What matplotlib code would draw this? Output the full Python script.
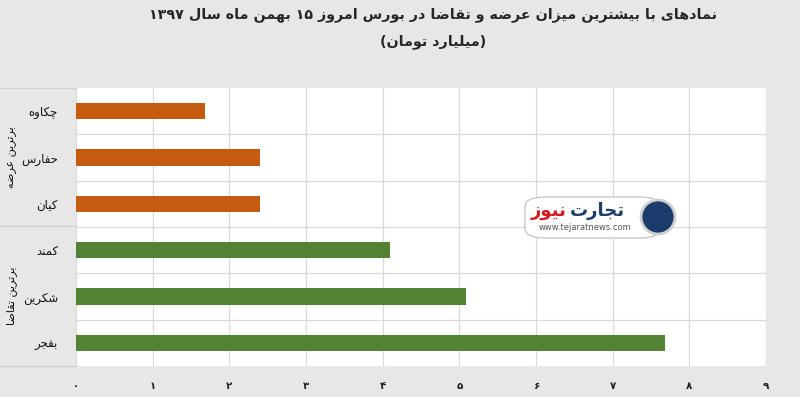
import matplotlib
matplotlib.use('Agg')
import matplotlib.pyplot as plt
from matplotlib.patches import FancyBboxPatch, Ellipse
from matplotlib.lines import Line2D

# data (top to bottom)
symbols = ['چکاوه', 'حفارس', 'کیان', 'کمند', 'شکرین', 'بفجر']
values = [1.68, 2.40, 2.40, 4.09, 5.09, 7.68]
groups = ['برترین عرضه', 'برترین تقاضا']
group_size = [3, 3]
x_ticks = list(range(10))
title_1 = 'نمادهای با بیشترین میزان عرضه و تقاضا در بورس امروز ۱۵ بهمن ماه سال ۱۳۹۷'
title_2 = '(میلیارد تومان)'

ORANGE = '#c55a11'
GREEN = '#548235'
BG = '#e7e7e7'

# --- tiny arabic/persian shaper (matplotlib 3.10 has no bidi/shaping) ---
FORMS = {
    'ا': (0xFE8D, 0xFE8E), 'د': (0xFEA9, 0xFEAA), 'ذ': (0xFEAB, 0xFEAC),
    'ر': (0xFEAD, 0xFEAE), 'ز': (0xFEAF, 0xFEB0), 'ژ': (0xFB8A, 0xFB8B),
    'و': (0xFEED, 0xFEEE),
    'ب': (0xFE8F, 0xFE90, 0xFE91, 0xFE92), 'پ': (0xFB56, 0xFB57, 0xFB58, 0xFB59),
    'ت': (0xFE95, 0xFE96, 0xFE97, 0xFE98), 'ث': (0xFE99, 0xFE9A, 0xFE9B, 0xFE9C),
    'ج': (0xFE9D, 0xFE9E, 0xFE9F, 0xFEA0), 'چ': (0xFB7A, 0xFB7B, 0xFB7C, 0xFB7D),
    'ح': (0xFEA1, 0xFEA2, 0xFEA3, 0xFEA4), 'خ': (0xFEA5, 0xFEA6, 0xFEA7, 0xFEA8),
    'س': (0xFEB1, 0xFEB2, 0xFEB3, 0xFEB4), 'ش': (0xFEB5, 0xFEB6, 0xFEB7, 0xFEB8),
    'ص': (0xFEB9, 0xFEBA, 0xFEBB, 0xFEBC), 'ض': (0xFEBD, 0xFEBE, 0xFEBF, 0xFEC0),
    'ط': (0xFEC1, 0xFEC2, 0xFEC3, 0xFEC4), 'ظ': (0xFEC5, 0xFEC6, 0xFEC7, 0xFEC8),
    'ع': (0xFEC9, 0xFECA, 0xFECB, 0xFECC), 'غ': (0xFECD, 0xFECE, 0xFECF, 0xFED0),
    'ف': (0xFED1, 0xFED2, 0xFED3, 0xFED4), 'ق': (0xFED5, 0xFED6, 0xFED7, 0xFED8),
    'ک': (0xFB8E, 0xFB8F, 0xFB90, 0xFB91), 'گ': (0xFB92, 0xFB93, 0xFB94, 0xFB95),
    'ل': (0xFEDD, 0xFEDE, 0xFEDF, 0xFEE0), 'م': (0xFEE1, 0xFEE2, 0xFEE3, 0xFEE4),
    'ن': (0xFEE5, 0xFEE6, 0xFEE7, 0xFEE8), 'ه': (0xFEE9, 0xFEEA, 0xFEEB, 0xFEEC),
    'ی': (0xFBFC, 0xFBFD, 0xFBFE, 0xFBFF),
}
MIRROR = {'(': ')', ')': '('}


def shape(s):
    out = []
    for i, ch in enumerate(s):
        f = FORMS.get(ch)
        if f is None:
            out.append(MIRROR.get(ch, ch))
            continue
        prev = s[i - 1] if i > 0 else ''
        nxt = s[i + 1] if i + 1 < len(s) else ''
        j_prev = prev in FORMS and len(FORMS[prev]) == 4
        j_next = len(f) == 4 and nxt in FORMS
        if j_prev and j_next:
            out.append(chr(f[3]))
        elif j_prev:
            out.append(chr(f[1]))
        elif j_next:
            out.append(chr(f[2]))
        else:
            out.append(chr(f[0]))
    # visual order: reverse, but keep digit runs left-to-right
    runs, cur = [], ''
    for ch in out:
        if ch.isdigit():
            cur += ch
        else:
            if cur:
                runs.append(cur)
                cur = ''
            runs.append(ch)
    if cur:
        runs.append(cur)
    return ''.join(reversed(runs))


plt.rcParams['font.family'] = ['DejaVu Sans']

fig = plt.figure(figsize=(8, 3.97), dpi=100)
fig.patch.set_facecolor(BG)
ax = fig.add_axes([76 / 800, 1 - 366 / 397, 690 / 800, 278 / 397])
ax.set_facecolor('white')

ypos = list(range(len(symbols)))
colors = [ORANGE] * group_size[0] + [GREEN] * group_size[1]
ax.barh(ypos, values, height=0.35, color=colors, zorder=3)

ax.set_xlim(0, 9)
ax.set_ylim(len(symbols) - 0.5, -0.5)
ax.set_xticks(x_ticks)
ax.set_xticklabels([shape(str(t).translate(str.maketrans('0123456789', '۰۱۲۳۴۵۶۷۸۹'))) for t in x_ticks],
                   fontsize=7.5, fontweight='bold', color='#222222')
ax.set_yticks(ypos)
ax.set_yticklabels([shape(s) for s in symbols], fontsize=8.5, color='#111111')
ax.tick_params(length=0, pad=13)
ax.tick_params(axis='x', pad=11)
ax.grid(axis='x', color='#d9d9d9', lw=0.9, zorder=0)
for y in [i + 0.5 for i in range(len(symbols) - 1)]:
    ax.axhline(y, color='#d9d9d9', lw=0.9, zorder=1)
for sp in ax.spines.values():
    sp.set_visible(False)

# group separators in the label panel
for yy in [88, 226, 366]:
    fig.add_artist(Line2D([0, 76 / 800], [1 - yy / 397] * 2, color='#cfcfcf', lw=0.9))
starts = [88, 226]
ends = [226, 366]
for g, a, b in zip(groups, starts, ends):
    fig.text(12 / 800, 1 - (a + b) / 2 / 397, shape(g), rotation=90, fontsize=8,
             ha='center', va='center', color='#111111')

# title
fig.text(433 / 800, 1 - 15 / 397, shape(title_1), ha='center', va='center', fontsize=10.3,
         fontweight='bold', color='#262626')
fig.text(433 / 800, 1 - 42 / 397, shape(title_2), ha='center', va='center', fontsize=10.3,
         fontweight='bold', color='#262626')

# watermark logo
box = FancyBboxPatch((525 / 800, 1 - 238 / 397), 135 / 800, 41 / 397,
                     boxstyle='round,pad=0,rounding_size=0.025', transform=fig.transFigure,
                     facecolor='white', edgecolor='#c8c8c8', lw=1, zorder=5)
fig.add_artist(box)
fig.add_artist(Ellipse((658 / 800, 1 - 217 / 397), 34 / 800, 34 / 397, transform=fig.transFigure,
                       facecolor='#1d3c6e', edgecolor='#d0d0d0', lw=2, zorder=6))
fig.text(597 / 800, 1 - 211 / 397, shape('تجارت'), ha='center', va='center', fontsize=13,
         fontweight='bold', color='#1d3c6e', zorder=7)
fig.text(549 / 800, 1 - 211 / 397, shape('نیوز'), ha='center', va='center', fontsize=13,
         fontweight='bold', color='#d71920', zorder=7)
fig.text(585 / 800, 1 - 228 / 397, 'www.tejaratnews.com', ha='center', va='center',
         fontsize=6, color='#555555', zorder=7)

fig.savefig('out.png', dpi=100, facecolor=BG)
